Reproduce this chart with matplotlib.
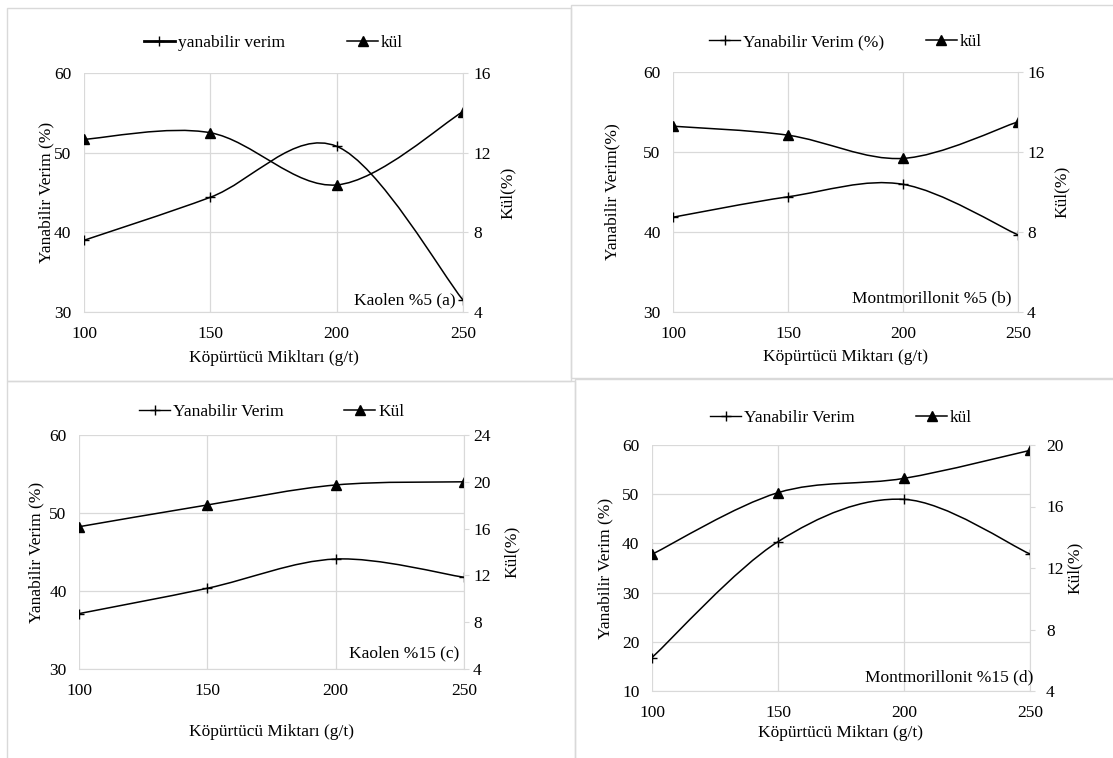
import numpy as np
import matplotlib
matplotlib.use('Agg')
from matplotlib import pyplot as plt
from matplotlib.path import Path
from matplotlib.patches import PathPatch, Rectangle
from matplotlib.lines import Line2D

plt.rcParams['font.family'] = 'Liberation Serif'
plt.rcParams['font.size'] = 12.5

# köpürtücü dozajı (g/t)
dozaj = [100, 150, 200, 250]

# yanabilir verim (%) ve kül (%) - dört deney serisi
verim_kaolen5 = [39.0, 44.4, 50.8, 31.5]
kul_kaolen5 = [12.67, 13.0, 10.38, 14.06]
verim_mont5 = [41.85, 44.4, 45.96, 39.64]
kul_mont5 = [13.29, 12.84, 11.68, 13.51]
verim_kaolen15 = [37.1, 40.35, 44.1, 41.76]
kul_kaolen15 = [16.16, 18.02, 19.73, 20.0]
verim_mont15 = [16.8, 40.35, 48.96, 37.85]
kul_mont15 = [12.89, 16.9, 17.83, 19.65]

W, H = 1113, 758
GRID = '#d9d9d9'

def fx(x):
    return x / W

def fy(y):
    return 1 - y / H

# excel tarzi yumusak cizgi (bezier)
def smooth_path(xs, ys):
    pts = np.column_stack([xs, ys]).astype(float)
    n = len(pts)
    verts = [pts[0]]
    codes = [Path.MOVETO]
    for i in range(n - 1):
        p0 = pts[max(i - 1, 0)]
        p1 = pts[i]
        p2 = pts[i + 1]
        p3 = pts[min(i + 2, n - 1)]
        verts += [p1 + (p2 - p0) / 6, p2 - (p3 - p1) / 6, p2]
        codes += [Path.CURVE4] * 3
    return Path(verts, codes)

fig = plt.figure(figsize=(W / 100, H / 100), dpi=100)

# panel cerceveleri
for x0, y0, x1, y1 in [(7, 8, 571, 381), (571, 5, 1120, 378),
                       (7, 381, 575, 765), (575, 379, 1120, 765)]:
    fig.patches.append(Rectangle((fx(x0), fy(y1)), (x1 - x0) / W, (y1 - y0) / H,
                                 transform=fig.transFigure, fill=False,
                                 ec=GRID, lw=1.0))

panels = [
    dict(verim=verim_kaolen5, kul=kul_kaolen5, rect=(84, 73, 463, 312),
         ylim=(30, 60), yticks=[30, 40, 50, 60], rlim=(4, 16), rticks=[4, 8, 12, 16],
         names=['yanabilir verim', 'kül'], lw0=2.0, leg_y=43, colsp=3.6,
         xlabel='Köpürtücü Mikltarı (g/t)', xl_y=358,
         ylabel='Yanabilir Verim (%)', yl_x=46, rl_x=508, rpad=4,
         note='Kaolen %5 (a)', note_xy=(456, 300)),
    dict(verim=verim_mont5, kul=kul_mont5, rect=(673, 72, 1018, 312),
         ylim=(30, 60), yticks=[30, 40, 50, 60], rlim=(4, 16), rticks=[4, 8, 12, 16],
         names=['Yanabilir Verim (%)', 'kül'], lw0=1.0, leg_y=42, colsp=2.4,
         xlabel='Köpürtücü Miktarı (g/t)', xl_y=357,
         ylabel='Yanabilir Verim(%)', yl_x=612, rl_x=1062, rpad=3,
         note='Montmorillonit %5 (b)', note_xy=(1012, 298)),
    dict(verim=verim_kaolen15, kul=kul_kaolen15, rect=(79, 435, 464, 669),
         ylim=(30, 60), yticks=[30, 40, 50, 60], rlim=(4, 24), rticks=[4, 8, 12, 16, 20, 24],
         names=['Yanabilir Verim', 'Kül'], lw0=1.0, leg_y=412, colsp=3.5,
         xlabel='Köpürtücü Miktarı (g/t)', xl_y=732,
         ylabel='Yanabilir Verim (%)', yl_x=36, rl_x=512, rpad=3,
         note='Kaolen %15 (c)', note_xy=(459, 653)),
    dict(verim=verim_mont15, kul=kul_mont15, rect=(652, 445, 1030, 691),
         ylim=(10, 60), yticks=[10, 20, 30, 40, 50, 60], rlim=(4, 20), rticks=[4, 8, 12, 16, 20],
         names=['Yanabilir Verim', 'kül'], lw0=1.0, leg_y=418, colsp=3.55,
         xlabel='Köpürtücü Miktarı (g/t)', xl_y=733,
         ylabel='Yanabilir Verim (%)', yl_x=605, rl_x=1075, rpad=8,
         note='Montmorillonit %15 (d)', note_xy=(1033, 677)),
]

for p in panels:
    x0, y0, x1, y1 = p['rect']
    ax = fig.add_axes([fx(x0), fy(y1), (x1 - x0) / W, (y1 - y0) / H])
    ax2 = ax.twinx()

    ax.set_xlim(100, 250)
    ax.set_xticks(dozaj)
    ax.set_ylim(*p['ylim'])
    ax.set_yticks(p['yticks'])
    ax2.set_ylim(*p['rlim'])
    ax2.set_yticks(p['rticks'])

    ax.grid(True, color=GRID, lw=0.9)
    ax.set_axisbelow(True)
    for s in ['top', 'left', 'right']:
        ax.spines[s].set_visible(False)
    ax.spines['bottom'].set_color(GRID)
    for s in ['top', 'left', 'bottom']:
        ax2.spines[s].set_visible(False)
    ax2.spines['right'].set_color(GRID)

    ax.tick_params(axis='both', length=0)
    ax.tick_params(axis='y', pad=9)
    ax.tick_params(axis='x', pad=10)
    ax2.tick_params(axis='y', length=3.5, color=GRID, pad=p['rpad'])

    # yanabilir verim (sol eksen)
    ax.add_patch(PathPatch(smooth_path(dozaj, p['verim']), fill=False, ec='k', lw=1.1))
    ax.plot(dozaj, p['verim'], ls='none', marker='+', ms=7, mew=1.0, color='k')
    # kül (sag eksen)
    ax2.add_patch(PathPatch(smooth_path(dozaj, p['kul']), fill=False, ec='k', lw=1.1))
    ax2.plot(dozaj, p['kul'], ls='none', marker='^', ms=6.5, color='k')

    ax.set_xlabel(p['xlabel'])
    ax.xaxis.set_label_coords(fx((x0 + x1) / 2), fy(p['xl_y']), transform=fig.transFigure)
    ax.xaxis.label.set_va('center')
    ax.set_ylabel(p['ylabel'])
    ax.yaxis.set_label_coords(fx(p['yl_x']), fy((y0 + y1) / 2), transform=fig.transFigure)
    ax.yaxis.label.set_va('center')
    ax2.set_ylabel('Kül(%)')
    ax2.yaxis.set_label_coords(fx(p['rl_x']), fy((y0 + y1) / 2), transform=fig.transFigure)
    ax2.yaxis.label.set_va('center')

    handles = [Line2D([], [], color='k', lw=p['lw0'], marker='+', ms=7, mew=1.0),
               Line2D([], [], color='k', lw=1.1, marker='^', ms=6.5)]
    ax2.legend(handles, p['names'], loc='center', ncol=2, frameon=False,
               bbox_to_anchor=(fx((x0 + x1) / 2), fy(p['leg_y'])),
               bbox_transform=fig.transFigure, numpoints=1, handlelength=1.8,
               handletextpad=0.15, columnspacing=p['colsp'], borderpad=0)

    nx, ny = p['note_xy']
    fig.text(fx(nx), fy(ny), p['note'], ha='right', va='center')

plt.savefig('out.png', dpi=100)
